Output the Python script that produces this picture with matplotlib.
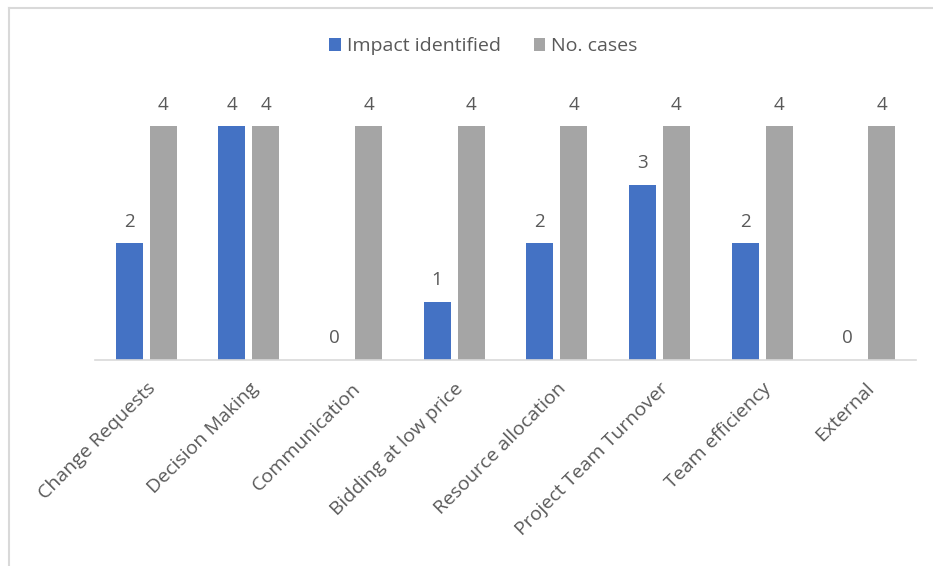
import matplotlib.pyplot as plt
from matplotlib.lines import Line2D
import numpy as np

categories = ["Change Requests", "Decision Making", "Communication",
              "Bidding at low price", "Resource allocation",
              "Project Team Turnover", "Team efficiency", "External"]
impact_identified = [2, 4, 0, 1, 2, 3, 2, 0]
no_cases = [4, 4, 4, 4, 4, 4, 4, 4]

blue = "#4472C4"
gray = "#A5A5A5"
text_color = "#595959"
plt.rcParams['font.family'] = ['Open Sans', 'DejaVu Sans']

fig = plt.figure(figsize=(9.33, 5.66), dpi=100)
ax = fig.add_axes([0.1018, 0.364, 0.88, 0.475])

x = np.arange(len(categories))
w = 0.263
off = 0.166
b1 = ax.bar(x - off, impact_identified, w, color=blue, label="Impact identified")
b2 = ax.bar(x + off, no_cases, w, color=gray, label="No. cases")

for bars in (b1, b2):
    ax.bar_label(bars, padding=9, fontsize=13.5, color=text_color)

ax.set_xlim(-0.5, len(categories) - 0.5)
ax.set_ylim(0, 4.6)
ax.set_yticks([])
ax.set_xticks(x)
ax.set_xticklabels(categories, rotation=45, ha="right", rotation_mode="anchor",
                   fontsize=14, color=text_color)
ax.tick_params(axis="x", length=0, pad=14)
for s in ["top", "right", "left"]:
    ax.spines[s].set_visible(False)
ax.spines["bottom"].set_color("#D9D9D9")
ax.spines["bottom"].set_linewidth(1.2)

fig.legend(handles=[b1, b2], loc="center", bbox_to_anchor=(0.518, 0.918),
           ncol=2, frameon=False, fontsize=14, labelcolor=text_color,
           handlelength=0.6, handleheight=0.6, handletextpad=0.3,
           columnspacing=1.7)

# outer chart border (top and left visible in the crop)
fig.add_artist(Line2D([9 / 933, 9 / 933], [0, 1 - 8 / 566],
                      color="#D9D9D9", lw=1.5, transform=fig.transFigure))
fig.add_artist(Line2D([9 / 933, 1], [1 - 8 / 566, 1 - 8 / 566],
                      color="#D9D9D9", lw=1.5, transform=fig.transFigure))

fig.savefig("out.png", dpi=100)
